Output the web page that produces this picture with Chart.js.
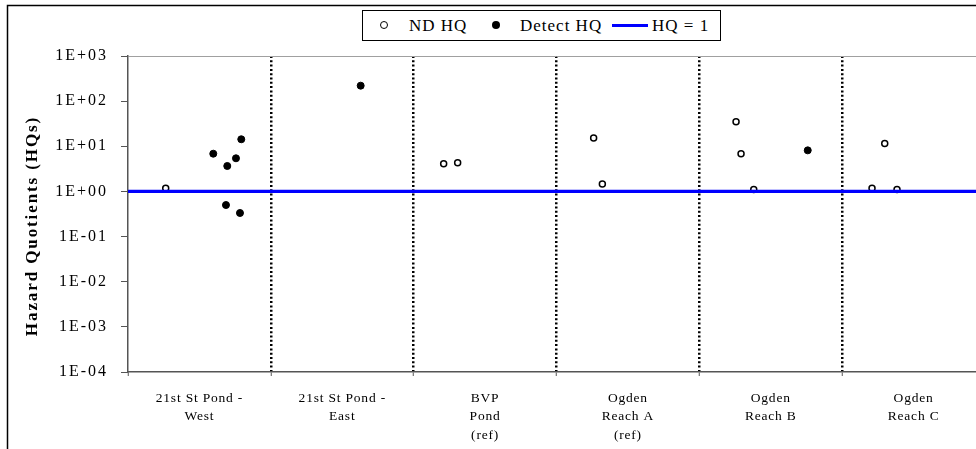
<!DOCTYPE html>
<html>
<head>
<meta charset="utf-8">
<title>Hazard Quotients by Location</title>
<script src="https://cdn.jsdelivr.net/npm/chart.js@4/dist/chart.umd.min.js"></script>
<style>
  html, body { margin: 0; padding: 0; background: #fff; overflow: hidden; width: 976px; height: 449px; }
  #wrap { position: relative; width: 1000px; height: 470px; }
  #c { position: absolute; left: 0; top: 0; }
  #legend {
    position: absolute; left: 362px; top: 10px; width: 357px; height: 29px;
    border: 1px solid #000; background: #fff; color: #000;
    font-family: 'Liberation Serif', 'Times New Roman', serif; font-size: 17px; letter-spacing: 1px;
  }
  #legend .m { position: absolute; box-sizing: border-box; }
  #legend .t { position: absolute; top: 0; line-height: 29px; white-space: nowrap; }
</style>
</head>
<body>
<div id="wrap">
  <canvas id="c" width="1000" height="470"></canvas>
  <div id="legend"></div>
</div>
<script>
// Sampling locations (multi-line category labels)
const categories = [
  ['21st St Pond -', 'West'],
  ['21st St Pond -', 'East'],
  ['BVP', 'Pond', '(ref)'],
  ['Ogden', 'Reach A', '(ref)'],
  ['Ogden', 'Reach B'],
  ['Ogden', 'Reach C']
];

// Non-detect hazard quotients: horizontal position within the location band, and HQ value
const ndPos = [0.264, 2.210, 2.308, 3.260, 3.321, 4.257, 4.292, 4.381, 5.209, 5.298, 5.384];
const ndHQ  = [1.17, 4.12, 4.33, 15.3, 1.46, 35.1, 6.85, 1.11, 1.17, 11.6, 1.11];

// Detected hazard quotients
const detectPos = [0.597, 0.686, 0.695, 0.756, 0.784, 0.793, 1.629, 4.759];
const detectHQ  = [6.85, 0.50, 3.66, 5.42, 0.333, 14.3, 220, 8.13];

// Reference level
const hqThreshold = 1;

// Axis ticks
const yTickValues = [1e-4, 1e-3, 1e-2, 1e-1, 1e0, 1e1, 1e2, 1e3];
const yTickLabels = ['1E-04', '1E-03', '1E-02', '1E-01', '1E+00', '1E+01', '1E+02', '1E+03'];
const separators = [0, 1, 2, 3, 4, 5, 6];
const yTitle = 'Hazard Quotients (HQs)';
const seriesNames = ['ND HQ', 'Detect HQ', 'HQ = 1'];

const SERIF = '"Liberation Serif", "Times New Roman", serif';

const toPoints = (xs, ys) => xs.map((x, i) => ({ x: x, y: ys[i] }));

const chartText = {
  id: 'chartText',
  beforeDraw(chart) {
    // spacing used by the y tick labels
    chart.ctx.letterSpacing = '2px';
  },
  afterDraw(chart) {
    const ctx = chart.ctx;
    const xs = chart.scales.x;
    const base = chart.chartArea.bottom;
    ctx.save();
    ctx.fillStyle = '#000';
    ctx.textAlign = 'center';
    ctx.textBaseline = 'middle';
    ctx.font = '13.5px ' + SERIF;
    ctx.letterSpacing = '0.8px';
    categories.forEach((lines, i) => {
      const px = xs.getPixelForValue(i + 0.5);
      lines.forEach((t, k) => ctx.fillText(t, px, base + 26 + k * 18.5));
    });
    ctx.translate(33, 226);
    ctx.rotate(-Math.PI / 2);
    ctx.font = 'bold 17px ' + SERIF;
    ctx.letterSpacing = '1.9px';
    ctx.fillText(yTitle, 0, 0);
    ctx.restore();

    // outer chart frame
    ctx.save();
    ctx.strokeStyle = '#000';
    ctx.lineWidth = 1.5;
    ctx.strokeRect(7.5, 5.5, 1200, 800);
    ctx.restore();
  }
};

const chart = new Chart(document.getElementById('c'), {
  type: 'scatter',
  data: {
    datasets: [
      {
        type: 'line',
        label: seriesNames[2],
        data: [{ x: separators[0], y: hqThreshold }, { x: separators[separators.length - 1], y: hqThreshold }],
        borderColor: '#0000ff',
        borderWidth: 3.3,
        pointRadius: 0,
        fill: false,
        order: 0
      },
      {
        label: seriesNames[0],
        data: toPoints(ndPos, ndHQ),
        pointStyle: 'circle',
        pointRadius: 3,
        borderWidth: 1.5,
        borderColor: '#000',
        backgroundColor: '#fff',
        order: 1
      },
      {
        label: seriesNames[1],
        data: toPoints(detectPos, detectHQ),
        pointStyle: 'circle',
        pointRadius: 3.5,
        borderWidth: 1,
        borderColor: '#000',
        backgroundColor: '#000',
        order: 1
      }
    ]
  },
  options: {
    responsive: false,
    animation: false,
    events: [],
    layout: { padding: { left: 0, top: 56, right: 15, bottom: 0 } },
    plugins: { legend: { display: false }, tooltip: { enabled: false } },
    scales: {
      x: {
        type: 'linear',
        min: separators[0],
        max: separators[separators.length - 1],
        afterBuildTicks: (s) => { s.ticks = separators.map(v => ({ value: v })); },
        afterFit: (s) => { s.height = 98; },
        ticks: { display: false },
        grid: {
          color: (c) => (c.tick && c.tick.value > separators[0] && c.tick.value < separators[separators.length - 1]) ? '#000' : 'rgba(0,0,0,0)',
          lineWidth: 2.5,
          drawTicks: true,
          tickLength: 4,
          tickColor: '#555',
          tickWidth: 1,
          tickBorderDash: []
        },
        border: { display: true, color: '#555', width: 1.5, dash: [2, 2.3] }
      },
      y: {
        type: 'logarithmic',
        min: yTickValues[0],
        max: yTickValues[yTickValues.length - 1],
        afterBuildTicks: (s) => { s.ticks = yTickValues.map(v => ({ value: v })); },
        afterFit: (s) => { s.width = 128; },
        ticks: {
          padding: 13,
          color: '#000',
          font: { family: SERIF, size: 16 },
          callback: (v) => { const i = yTickValues.indexOf(v); return i >= 0 ? yTickLabels[i] : ''; }
        },
        grid: {
          color: (c) => (c.tick && c.tick.value === yTickValues[yTickValues.length - 1]) ? '#a0a0a0' : 'rgba(0,0,0,0)',
          lineWidth: 1,
          drawTicks: true,
          tickLength: 7,
          tickColor: '#555',
          tickWidth: 1
        },
        border: { display: true, color: '#555', width: 1.5 }
      }
    }
  },
  plugins: [chartText]
});

// Legend built from the dataset labels
(function buildLegend() {
  const lg = document.getElementById('legend');
  const ds = chart.data.datasets;
  const items = [
    { set: ds[1], marker: 'left:17px;top:10px;width:8px;height:8px;border-radius:50%;border:1.5px solid #000;background:#fff;', text: 46 },
    { set: ds[2], marker: 'left:129px;top:10px;width:8px;height:8px;border-radius:50%;background:#000;', text: 157 },
    { set: ds[0], marker: 'left:249px;top:12.5px;width:36px;height:3px;background:#0000ff;', text: 289 }
  ];
  items.forEach(it => {
    const m = document.createElement('span');
    m.className = 'm';
    m.style.cssText = it.marker;
    lg.appendChild(m);
    const t = document.createElement('span');
    t.className = 't';
    t.style.left = it.text + 'px';
    t.textContent = it.set.label;
    lg.appendChild(t);
  });
})();
</script>
</body>
</html>
